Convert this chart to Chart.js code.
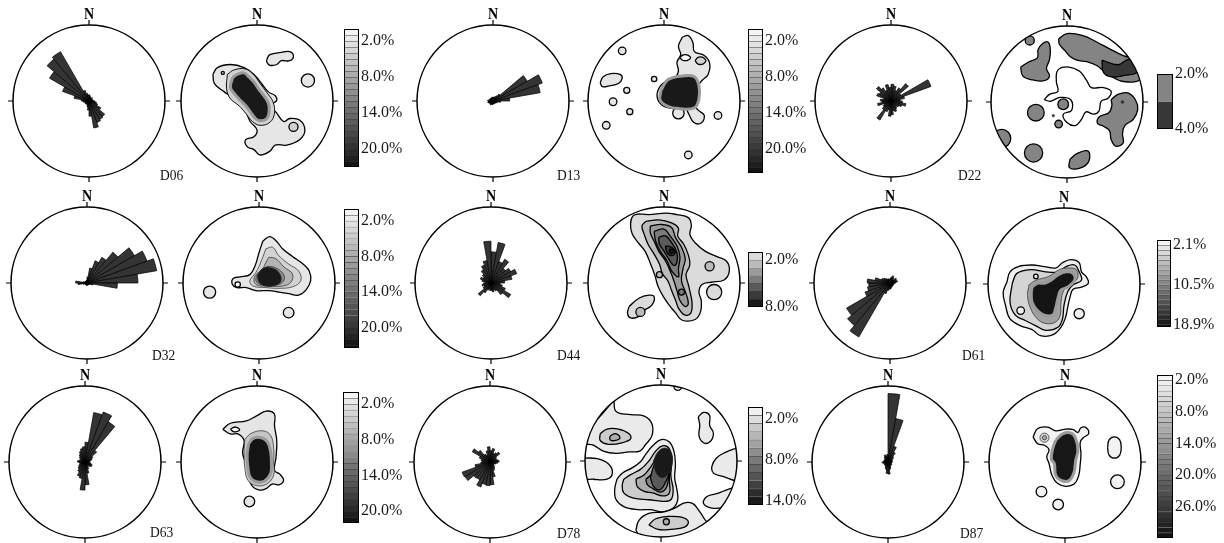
<!DOCTYPE html>
<html>
<head>
<meta charset="utf-8">
<script src="https://cdn.jsdelivr.net/npm/chart.js@4.4.1/dist/chart.umd.min.js"></script>
<style>
  html, body { margin: 0; padding: 0; background: #fff; }
  #fig { position: relative; width: 1224px; height: 543px; overflow: hidden; background: #fff; }
  #fig canvas { position: absolute; }
  .tag { position: absolute; font-family: "Liberation Serif", "Times New Roman", serif; font-size: 13.5px;
         color: #111; line-height: 1; transform: scaleY(1.15); transform-origin: left center; white-space: nowrap; }
</style>
</head>
<body>
<div id="fig"></div>
<script>
// ---------- Rose diagrams: relative length per 10° azimuth bin (0–10°, 10–20°, … clockwise from N) ----------
const azimuthBins = Array.from({ length: 36 }, (_, i) => `${i * 10}°–${i * 10 + 10}°`);

const roseD06 = [0.08,0.06,0.05,0.05,0.06,0.05,0.04,0.05,0.06,0.08, 0.10,0.12,0.18,0.27,0.28,0.30,0.36,0.20,0.12,0.08,
                 0.06,0.05,0.05,0.06,0.05,0.06,0.08,0.10,0.20,0.37, 0.60,0.72,0.75,0.15,0.10,0.08];
const roseD13 = [0.05,0.05,0.06,0.08,0.12,0.52,0.69,0.63,0.22,0.10, 0.06,0.05,0.04,0.04,0.03,0.04,0.03,0.04,0.05,0.04,
                 0.05,0.06,0.05,0.05,0.06,0.07,0.06,0.07,0.05,0.05, 0.04,0.05,0.04,0.04,0.05,0.05];
const roseD22 = [0.22,0.20,0.15,0.20,0.30,0.15,0.56,0.18,0.12,0.15, 0.20,0.15,0.12,0.10,0.12,0.15,0.13,0.18,0.20,0.12,
                 0.15,0.29,0.15,0.12,0.10,0.18,0.12,0.14,0.10,0.20, 0.18,0.25,0.20,0.15,0.22,0.18];
const roseD32 = [0.08,0.20,0.31,0.39,0.53,0.72,0.84,0.93,0.67,0.40, 0.08,0.04,0.03,0.03,0.03,0.03,0.03,0.03,0.03,0.03,
                 0.03,0.03,0.03,0.03,0.03,0.05,0.12,0.15,0.05,0.03, 0.03,0.03,0.03,0.03,0.03,0.04];
const roseD44 = [0.41,0.54,0.30,0.36,0.25,0.30,0.36,0.28,0.18,0.12, 0.15,0.20,0.30,0.20,0.12,0.10,0.12,0.10,0.10,0.08,
                 0.10,0.15,0.22,0.12,0.10,0.12,0.10,0.08,0.12,0.15, 0.12,0.15,0.20,0.25,0.30,0.55];
const roseD61 = [0.06,0.08,0.10,0.08,0.06,0.10,0.08,0.10,0.08,0.06, 0.05,0.05,0.05,0.05,0.05,0.06,0.06,0.08,0.08,0.10,
                 0.15,0.82,0.73,0.66,0.35,0.30,0.28,0.30,0.20,0.12, 0.10,0.08,0.06,0.06,0.05,0.05];
const roseD63 = [0.26,0.66,0.70,0.61,0.20,0.12,0.10,0.08,0.06,0.06, 0.08,0.10,0.10,0.08,0.06,0.10,0.15,0.30,0.37,0.22,
                 0.20,0.15,0.12,0.10,0.08,0.06,0.08,0.10,0.08,0.06, 0.08,0.10,0.12,0.15,0.18,0.20];
const roseD78 = [0.15,0.18,0.12,0.14,0.17,0.10,0.08,0.10,0.12,0.10, 0.08,0.06,0.06,0.08,0.10,0.12,0.20,0.30,0.31,0.30,
                 0.35,0.27,0.28,0.38,0.39,0.20,0.12,0.10,0.12,0.15, 0.27,0.20,0.12,0.10,0.15,0.20];
const roseD87 = [0.90,0.58,0.22,0.15,0.10,0.08,0.06,0.05,0.06,0.05, 0.04,0.05,0.06,0.05,0.06,0.08,0.10,0.16,0.15,0.10,
                 0.08,0.06,0.05,0.06,0.05,0.06,0.08,0.06,0.05,0.06, 0.05,0.06,0.08,0.10,0.08,0.10];

// ---------- Density contours: outlines in net coordinates (unit circle, x = E, y = N) ----------
// spots are small closed contours given as [x, y, radius]
const d06Lvl2 = [[-0.58,0.35],[-0.52,0.44],[-0.35,0.48],[-0.17,0.44],[-0.04,0.35],[0.06,0.23],[0.15,0.12],[0.24,0.07],
  [0.26,0.01],[0.19,-0.06],[0.26,-0.16],[0.35,-0.27],[0.43,-0.23],[0.56,-0.25],[0.63,-0.38],[0.56,-0.51],[0.39,-0.58],
  [0.24,-0.58],[0.17,-0.66],[0.04,-0.71],[-0.04,-0.64],[-0.13,-0.60],[-0.15,-0.51],[-0.04,-0.47],[0,-0.38],[-0.09,-0.27],
  [-0.17,-0.10],[-0.30,0.03],[-0.43,0.12],[-0.56,0.23]];
const d06Cap = [[0.13,0.55],[0.17,0.61],[0.32,0.64],[0.43,0.65],[0.48,0.59],[0.43,0.53],[0.32,0.53],[0.26,0.48],[0.17,0.47],[0.13,0.51]];
const d06Spots2 = [[0.67,0.27,0.087]];
const d06Spots4 = [[0.48,-0.34,0.06],[-0.45,0.37,0.02]];
const d06Lvl4 = [[-0.39,0.35],[-0.30,0.41],[-0.15,0.42],[-0.04,0.34],[0.04,0.23],[0.13,0.11],[0.21,-0.01],[0.23,-0.16],
  [0.17,-0.28],[0.04,-0.32],[-0.06,-0.27],[-0.15,-0.16],[-0.24,-0.06],[-0.35,0.03],[-0.40,0.16]];
const d06Lvl22 = [[-0.32,0.31],[-0.26,0.35],[-0.17,0.37],[-0.11,0.32],[-0.04,0.25],[0.02,0.16],[0.09,0.07],[0.15,-0.03],
  [0.16,-0.14],[0.13,-0.23],[0.04,-0.26],[-0.02,-0.23],[-0.09,-0.14],[-0.15,-0.06],[-0.24,0.03],[-0.30,0.10],[-0.35,0.18]];

const d13Lvl2 = [[0.24,0.84],[0.32,0.86],[0.38,0.77],[0.40,0.65],[0.53,0.60],[0.60,0.50],[0.58,0.35],[0.50,0.27],[0.45,0.19],
  [0.45,0.03],[0.41,-0.06],[0.45,-0.12],[0.53,-0.19],[0.49,-0.29],[0.39,-0.28],[0.32,-0.16],[0.28,-0.10],[0.11,-0.10],
  [-0.02,-0.06],[-0.09,0.05],[-0.06,0.18],[0.04,0.27],[0.11,0.29],[0.16,0.32],[0.19,0.40],[0.17,0.51],[0.22,0.61],[0.19,0.72]];
const d13Cap = [[-0.84,0.24],[-0.80,0.32],[-0.70,0.36],[-0.58,0.35],[-0.55,0.30],[-0.60,0.23],[-0.72,0.20],[-0.81,0.19]];
const d13Spots2 = [[-0.55,0.66,0.05],[-0.49,0.14,0.04],[-0.67,-0.01,0.05],[-0.45,-0.14,0.04],[-0.76,-0.32,0.05],
  [-0.13,0.29,0.035],[0.19,-0.16,0.075],[0.71,-0.19,0.05],[0.32,-0.71,0.05]];
const d13Hole = [[0.21,0.57],[0.24,0.60],[0.28,0.61],[0.32,0.60],[0.35,0.57],[0.32,0.54],[0.28,0.53],[0.24,0.54]];
const d13Oval4 = [[0.41,0.53],[0.44,0.57],[0.48,0.58],[0.52,0.57],[0.55,0.53],[0.52,0.49],[0.48,0.48],[0.44,0.49]];
const d13Lvl23 = [[-0.04,0.14],[0.05,0.28],[0.24,0.33],[0.40,0.32],[0.46,0.20],[0.46,0.03],[0.40,-0.09],[0.19,-0.10],[0.05,-0.07],[-0.05,0.01]];

const d22NE = [[-0.11,0.83],[0,0.90],[0.22,0.87],[0.39,0.79],[0.56,0.70],[0.74,0.61],[0.89,0.57],[1.02,0.51],[0.97,0.30],
  [0.74,0.27],[0.56,0.35],[0.48,0.41],[0.39,0.48],[0.26,0.53],[0.13,0.55],[0.04,0.60],[-0.03,0.68],[-0.10,0.76]];
const d22NW = [[-0.61,0.46],[-0.50,0.53],[-0.39,0.58],[-0.38,0.69],[-0.32,0.77],[-0.25,0.79],[-0.22,0.70],[-0.23,0.56],
  [-0.27,0.44],[-0.23,0.34],[-0.30,0.28],[-0.45,0.29],[-0.58,0.34]];
const d22E = [[0.58,0.03],[0.67,0.10],[0.80,0.12],[0.90,0.03],[0.93,-0.10],[0.87,-0.23],[0.76,-0.31],[0.73,-0.42],[0.74,-0.54],
  [0.64,-0.58],[0.58,-0.49],[0.56,-0.38],[0.48,-0.32],[0.40,-0.28],[0.43,-0.19],[0.55,-0.14],[0.59,-0.05]];
const d22S = [[0.04,-0.75],[0.13,-0.68],[0.26,-0.64],[0.30,-0.71],[0.26,-0.82],[0.13,-0.88],[0.03,-0.86]];
const d22Spots = [[-0.49,0.81,0.06],[-0.41,-0.14,0.11],[-0.05,-0.03,0.07],[-0.11,-0.29,0.05],[-0.86,-0.48,0.12],
  [-0.44,-0.67,0.12],[0.56,-0.88,0.04]];
const d22Peak = [[0.46,0.55],[0.67,0.49],[0.81,0.56],[0.92,0.50],[0.92,0.39],[0.76,0.35],[0.59,0.33],[0.48,0.39]];
const d22Dots = [[0.73,0.0,0.018],[-0.18,-0.18,0.015]];
const d22Open = [[-0.30,0.03],[-0.23,0.10],[-0.12,0.14],[-0.14,0.27],[-0.12,0.42],[0.02,0.46],[0.17,0.40],[0.26,0.28],
  [0.32,0.19],[0.48,0.19],[0.58,0.14],[0.54,0.05],[0.45,0.01],[0.42,-0.12],[0.35,-0.16],[0.25,-0.13],[0.19,-0.23],
  [0.11,-0.31],[0,-0.27],[-0.05,-0.16],[0.06,-0.11],[0.05,0.03],[-0.09,0.06],[-0.22,0.01]];

const d32Lvl2 = [[0.05,0.55],[0.14,0.61],[0.23,0.55],[0.31,0.45],[0.44,0.35],[0.58,0.25],[0.66,0.16],[0.68,0.03],[0.62,-0.09],
  [0.52,-0.16],[0.39,-0.14],[0.26,-0.12],[0.13,-0.10],[-0.04,-0.10],[-0.17,-0.06],[-0.29,-0.06],[-0.35,-0.02],[-0.34,0.06],
  [-0.25,0.08],[-0.12,0.11],[-0.05,0.23],[0.00,0.40]];
const d32Spots2 = [[-0.65,-0.12,0.08],[0.39,-0.39,0.07]];
const d32Hole = [[-0.28,-0.02,0.035]];
const d32Lvl4 = [[0.09,0.45],[0.18,0.47],[0.26,0.36],[0.39,0.25],[0.52,0.16],[0.55,0.03],[0.44,-0.05],[0.26,-0.07],[0.09,-0.06],
  [-0.08,-0.04],[-0.12,0.03],[-0.04,0.14],[0.03,0.29]];
const d32Lvl7 = [[0.13,0.34],[0.22,0.32],[0.33,0.21],[0.44,0.12],[0.42,0.01],[0.31,-0.04],[0.13,-0.04],[-0.04,-0.02],[-0.06,0.08],
  [0.05,0.19],[0.09,0.27]];
const d32Lvl11 = [[0.11,0.22],[0.22,0.20],[0.33,0.10],[0.31,0.01],[0.20,-0.03],[0.05,-0.03],[-0.04,0.03],[0.00,0.14]];
const d32Lvl22 = [[-0.02,0.10],[0.05,0.19],[0.16,0.20],[0.26,0.14],[0.29,0.03],[0.22,-0.03],[0.09,-0.04],[0.00,0.01]];

const d44Lvl1 = [[-0.33,0.91],[-0.20,0.90],[0.02,0.92],[0.17,0.90],[0.32,0.86],[0.36,0.76],[0.34,0.64],[0.41,0.53],[0.54,0.42],
  [0.69,0.35],[0.82,0.29],[0.86,0.16],[0.79,0.04],[0.62,0.01],[0.50,-0.02],[0.46,-0.12],[0.49,-0.23],[0.48,-0.38],[0.41,-0.48],
  [0.24,-0.49],[0.15,-0.39],[0.06,-0.28],[-0.02,-0.16],[-0.08,-0.04],[-0.12,0.10],[-0.18,0.26],[-0.25,0.42],[-0.34,0.53],
  [-0.42,0.65],[-0.44,0.78],[-0.41,0.88]];
const d44SW = [[-0.46,-0.31],[-0.33,-0.20],[-0.20,-0.16],[-0.13,-0.18],[-0.16,-0.29],[-0.29,-0.38],[-0.33,-0.44],[-0.44,-0.46],[-0.48,-0.40]];
const d44Spots1 = [[0.66,-0.12,0.10]];
const d44Lvl2 = [[-0.24,0.81],[-0.07,0.83],[0.10,0.79],[0.19,0.72],[0.18,0.62],[0.26,0.51],[0.32,0.37],[0.34,0.24],[0.29,0.11],
  [0.32,-0.02],[0.35,-0.15],[0.37,-0.28],[0.35,-0.40],[0.27,-0.42],[0.19,-0.33],[0.15,-0.22],[0.10,-0.10],[0.05,0.03],
  [-0.02,0.12],[-0.06,0.25],[-0.13,0.38],[-0.21,0.51],[-0.26,0.64],[-0.29,0.75]];
const d44Spots2 = [[-0.31,-0.38,0.06],[0.60,0.22,0.06],[-0.06,0.11,0.04]];
const d44Lvl3 = [[-0.18,0.75],[-0.03,0.77],[0.10,0.73],[0.15,0.60],[0.23,0.47],[0.28,0.32],[0.25,0.19],[0.23,0.03],[0.29,-0.14],
  [0.32,-0.27],[0.28,-0.31],[0.21,-0.23],[0.17,-0.10],[0.13,0.03],[0.08,0.16],[0.02,0.29],[-0.07,0.42],[-0.13,0.55],[-0.18,0.66]];
const d44Lvl4 = [[-0.13,0.68],[0,0.71],[0.08,0.62],[0.17,0.49],[0.21,0.34],[0.19,0.19],[0.19,0.08],[0.10,0.16],[0.04,0.29],
  [-0.05,0.42],[-0.11,0.55]];
const d44Spots4 = [[0.23,-0.12,0.04]];
const d44Lvl5 = [[-0.07,0.60],[0.02,0.62],[0.10,0.53],[0.17,0.40],[0.17,0.27],[0.13,0.23],[0.06,0.32],[0,0.42],[-0.06,0.51]];
const d44Lvl6 = [[0.02,0.49],[0.10,0.47],[0.15,0.40],[0.10,0.36],[0.04,0.40]];
const d44Spots7 = [[0.10,0.42,0.03]];

const d61Lvl2 = [[-0.75,0.03],[-0.71,0.16],[-0.60,0.23],[-0.42,0.25],[-0.26,0.23],[-0.11,0.21],[-0.02,0.28],[0.09,0.32],
  [0.20,0.28],[0.23,0.16],[0.29,0.10],[0.32,0.01],[0.23,-0.04],[0.12,-0.07],[0.08,-0.17],[0.05,-0.30],[0.02,-0.44],
  [-0.04,-0.57],[-0.15,-0.67],[-0.31,-0.68],[-0.42,-0.60],[-0.57,-0.55],[-0.71,-0.46],[-0.77,-0.28],[-0.80,-0.11]];
const d61Spots2 = [[0.20,-0.39,0.067]];
const d61Lvl5 = [[-0.68,0.01],[-0.62,0.14],[-0.44,0.19],[-0.24,0.16],[-0.08,0.16],[0.03,0.23],[0.14,0.25],[0.20,0.16],
  [0.23,0.05],[0.12,-0.01],[0.05,-0.10],[0.00,-0.28],[-0.02,-0.46],[-0.08,-0.57],[-0.24,-0.61],[-0.37,-0.55],[-0.51,-0.48],
  [-0.64,-0.41],[-0.71,-0.24]];
const d61Loops = [[-0.57,-0.35,0.05],[-0.37,0.10,0.03]];
const d61Lvl10 = [[-0.46,-0.01],[-0.37,0.05],[-0.20,0.10],[-0.06,0.19],[0.05,0.21],[0.16,0.19],[0.18,0.08],[0.09,-0.01],
  [0.00,-0.08],[-0.04,-0.24],[-0.05,-0.41],[-0.11,-0.50],[-0.24,-0.52],[-0.35,-0.46],[-0.44,-0.32],[-0.48,-0.15]];
const d61Lvl19 = [[-0.42,-0.04],[-0.35,0.01],[-0.26,0.01],[-0.17,0.05],[-0.08,0.12],[0.03,0.16],[0.12,0.14],[0.14,0.05],
  [0.05,-0.04],[-0.04,-0.08],[-0.08,-0.19],[-0.11,-0.32],[-0.15,-0.41],[-0.26,-0.41],[-0.35,-0.35],[-0.42,-0.24],[-0.43,-0.12]];

const d63Lvl2 = [[-0.45,0.43],[-0.35,0.51],[-0.14,0.54],[0,0.61],[0.12,0.67],[0.23,0.63],[0.23,0.48],[0.26,0.28],[0.25,0.06],
  [0.23,-0.11],[0.30,-0.16],[0.35,-0.24],[0.29,-0.30],[0.20,-0.29],[0.12,-0.35],[0.03,-0.37],[-0.06,-0.32],[-0.12,-0.19],
  [-0.15,-0.02],[-0.19,0.12],[-0.17,0.28],[-0.25,0.37],[-0.35,0.37]];
const d63Spots2 = [[-0.10,-0.52,0.07]];
const d63Hole = [[-0.35,0.43],[-0.32,0.45],[-0.28,0.46],[-0.24,0.44],[-0.23,0.42],[-0.27,0.40],[-0.31,0.40]];
const d63Lvl5 = [[-0.16,0.30],[-0.07,0.38],[0.08,0.41],[0.18,0.35],[0.22,0.18],[0.22,0.00],[0.22,-0.17],[0.13,-0.29],
  [-0.01,-0.31],[-0.12,-0.24],[-0.16,-0.08],[-0.17,0.12]];
const d63Lvl21 = [[-0.11,0.24],[-0.05,0.31],[0.06,0.32],[0.14,0.26],[0.18,0.13],[0.19,-0.02],[0.18,-0.15],[0.10,-0.25],
  [-0.01,-0.26],[-0.09,-0.20],[-0.12,-0.07],[-0.13,0.09]];

const d78NW = [[-0.62,0.81],[-0.59,0.65],[-0.40,0.61],[-0.22,0.59],[-0.12,0.49],[-0.12,0.33],[-0.20,0.22],[-0.28,0.13],
  [-0.42,0.12],[-0.59,0.10],[-0.76,0.13],[-0.89,0.21],[-1.02,0.24],[-1.02,0.47],[-0.87,0.53],[-0.73,0.67]];
const d78W = [[-1.02,0.04],[-0.84,0.03],[-0.69,-0.04],[-0.64,-0.16],[-0.71,-0.24],[-0.89,-0.24],[-1.02,-0.22]];
const d78Mid1 = [[-0.58,-0.24],[-0.51,-0.16],[-0.38,-0.09],[-0.27,-0.01],[-0.20,0.09],[-0.11,0.20],[0,0.28],[0.11,0.25],
  [0.17,0.13],[0.19,-0.04],[0.18,-0.22],[0.21,-0.38],[0.22,-0.51],[0.16,-0.62],[0.02,-0.67],[-0.13,-0.64],[-0.31,-0.64],
  [-0.49,-0.60],[-0.59,-0.51],[-0.61,-0.38]];
const d78S1 = [[-0.33,-0.91],[-0.29,-0.78],[-0.16,-0.69],[0.04,-0.67],[0.18,-0.62],[0.31,-0.55],[0.42,-0.56],[0.49,-0.64],
  [0.57,-0.76],[0.64,-0.89],[0.22,-1.09],[-0.22,-1.09]];
const d78NE = [[0.49,0.58],[0.56,0.64],[0.64,0.60],[0.64,0.47],[0.69,0.36],[0.64,0.25],[0.56,0.24],[0.50,0.33],[0.51,0.47]];
const d78E = [[1.02,0.18],[0.84,0.11],[0.73,0.04],[0.67,-0.07],[0.69,-0.16],[0.80,-0.20],[1.02,-0.24]];
const d78SE = [[1.02,-0.33],[0.84,-0.39],[0.73,-0.43],[0.60,-0.47],[0.56,-0.56],[0.67,-0.62],[0.84,-0.61],[1.02,-0.56]];
const d78Spots1 = [[0.22,0.98,0.05]];
const d78NW2 = [[-0.80,0.36],[-0.71,0.42],[-0.56,0.42],[-0.42,0.36],[-0.40,0.29],[-0.51,0.24],[-0.69,0.22],[-0.80,0.27]];
const d78Mid2 = [[-0.49,-0.24],[-0.40,-0.18],[-0.27,-0.11],[-0.16,0],[-0.07,0.13],[0.02,0.20],[0.11,0.16],[0.14,0],
  [0.13,-0.20],[0.16,-0.38],[0.13,-0.51],[0.02,-0.53],[-0.16,-0.51],[-0.36,-0.49],[-0.49,-0.42],[-0.51,-0.32]];
const d78S2 = [[-0.16,-0.84],[-0.07,-0.76],[0.09,-0.73],[0.27,-0.74],[0.36,-0.80],[0.31,-0.87],[0.13,-0.90],[-0.04,-0.90]];
const d78NW3 = [[-0.67,0.33],[-0.60,0.36],[-0.54,0.31],[-0.60,0.27],[-0.67,0.28]];
const d78Mid3 = [[-0.33,-0.24],[-0.22,-0.18],[-0.13,-0.07],[-0.04,0.07],[0.04,0.13],[0.11,0.09],[0.12,-0.07],[0.11,-0.24],
  [0.11,-0.42],[0.02,-0.46],[-0.11,-0.42],[-0.22,-0.40],[-0.31,-0.34]];
const d78Spots3 = [[0.07,-0.80,0.04]];
const d78Mid4 = [[-0.20,-0.24],[-0.11,-0.16],[-0.04,-0.02],[0.05,0.08],[0.12,0.02],[0.10,-0.16],[0.08,-0.33],[0,-0.41],[-0.11,-0.36],[-0.18,-0.31]];
const d78Mid5 = [[-0.14,-0.22],[-0.10,-0.08],[-0.03,0.08],[0.08,0.14],[0.14,0.06],[0.12,-0.12],[0.05,-0.30],[-0.02,-0.38],[-0.10,-0.33]];
const d78Peak = [[-0.10,0.00],[-0.04,0.12],[0.05,0.17],[0.13,0.12],[0.15,-0.02],[0.10,-0.16],[0.02,-0.22],[-0.06,-0.16]];

const d87Lvl2 = [[-0.42,0.33],[-0.36,0.44],[-0.23,0.46],[-0.12,0.41],[-0.01,0.43],[0.10,0.43],[0.17,0.39],[0.21,0.45],
  [0.28,0.45],[0.31,0.37],[0.24,0.32],[0.20,0.26],[0.21,0.11],[0.20,-0.03],[0.18,-0.18],[0.12,-0.29],[0.01,-0.32],
  [-0.10,-0.28],[-0.17,-0.18],[-0.21,-0.02],[-0.24,0.07],[-0.21,0.16],[-0.27,0.22],[-0.36,0.24]];
const d87Oval = [[0.56,0.19],[0.58,0.29],[0.65,0.33],[0.72,0.29],[0.74,0.19],[0.72,0.09],[0.65,0.05],[0.58,0.09]];
const d87Spots2 = [[0.69,-0.26,0.09],[-0.31,-0.39,0.07],[-0.09,-0.56,0.07]];
const d87Spots6 = [[-0.27,0.32,0.06]];
const d87Spots12 = [[-0.27,0.32,0.028]];
const d87Lvl31 = [[-0.12,0.29],[-0.03,0.37],[0.08,0.38],[0.14,0.31],[0.17,0.15],[0.14,0.02],[0.12,-0.13],[0.06,-0.24],
  [-0.03,-0.25],[-0.12,-0.18],[-0.14,-0.02],[-0.18,0.04],[-0.16,0.18]];

// ---------- Colour bars: band edges (%) and labelled values ----------
const d06BarEdges = [0,1,2,3,4,5,6,7,8,9,10,11,12,13,14,15,16,17,18,19,20,21,22,23];
const d06BarTicks = [2, 8, 14, 20];
const d13BarEdges = [0,1,2,3,4,5,6,7,8,9,10,11,12,13,14,15,16,17,18,19,20,21,22,23,24];
const d13BarTicks = [2, 8, 14, 20];
const d22BarEdges = [2, 3, 4];
const d22BarTicks = [2, 4];
const d32BarEdges = [0,1,2,3,4,5,6,7,8,9,10,11,12,13,14,15,16,17,18,19,20,21,22,23,23.5];
const d32BarTicks = [2, 8, 14, 20];
const d44BarEdges = [1,2,3,4,5,6,7,8];
const d44BarTicks = [2, 8];
const d61BarEdges = [1.05,2.1,3.15,4.2,5.25,6.3,7.35,8.4,9.45,10.5,11.55,12.6,13.65,14.7,15.75,16.8,17.85,18.9,19.4];
const d61BarTicks = [2.1, 10.5, 18.9];
const d63BarEdges = [0,1,2,3,4,5,6,7,8,9,10,11,12,13,14,15,16,17,18,19,20,21,22];
const d63BarTicks = [2, 8, 14, 20];
const d78BarEdges = [0.2,1.4,2.6,3.8,5.0,6.2,7.4,8.6,9.8,11.0,12.2,13.4,14.6];
const d78BarTicks = [2, 8, 14];
const d87BarEdges = [1,2,3,4,5,6,7,8,9,10,11,12,13,14,15,16,17,18,19,20,21,22,23,24,25,26,27,28,29,30,31,32];
const d87BarTicks = [2, 8, 14, 20, 26];

// ---------- Layout of the nine sample panels ----------
const R = 76;              // circle radius in px
const SERIF = '"Liberation Serif", "Times New Roman", serif';

const panels = [
  { name: 'D06', rose: roseD06, roseAt: [89, 101], netAt: [257, 101], tagAt: [160, 175],
    bar: { edges: d06BarEdges, ticks: d06BarTicks, light: 250, dark: 15, rect: [344, 29, 15, 138] },
    layers: [
      { pts: d06Lvl2, level: 2, line: 'bold' }, { pts: d06Cap, level: 2, line: 'bold' },
      { spots: d06Spots2, level: 2, line: 'bold' }, { spots: d06Spots4, level: 4, line: 'bold' },
      { pts: d06Lvl4, level: 4, line: 'mid' }, { pts: d06Lvl22, level: 22, line: 'halo' } ] },
  { name: 'D13', rose: roseD13, roseAt: [493, 101], netAt: [664, 101], tagAt: [557, 175],
    bar: { edges: d13BarEdges, ticks: d13BarTicks, light: 250, dark: 15, rect: [748, 29, 15, 144] },
    layers: [
      { pts: d13Lvl2, level: 2, line: 'bold' }, { pts: d13Cap, level: 2, line: 'bold' },
      { spots: d13Spots2, level: 2, line: 'bold' }, { pts: d13Hole, level: null, line: 'bold' },
      { pts: d13Oval4, level: 4, line: 'bold' }, { pts: d13Lvl23, level: 23, line: 'halo' } ] },
  { name: 'D22', rose: roseD22, roseAt: [891, 101], netAt: [1067, 102], tagAt: [958, 175],
    bar: { edges: d22BarEdges, ticks: d22BarTicks, light: 170, dark: 17, rect: [1157, 74, 16, 55] },
    layers: [
      { pts: d22NE, level: 2.5, line: 'bold' }, { pts: d22NW, level: 2.5, line: 'bold' },
      { pts: d22E, level: 2.5, line: 'bold' }, { pts: d22S, level: 2.5, line: 'bold' },
      { spots: d22Spots, level: 2.5, line: 'bold' }, { pts: d22Peak, level: 3.5, line: 'bold' },
      { spots: d22Dots, level: 3.5, line: 'thin' }, { pts: d22Open, level: null, line: 'bold', open: true } ] },
  { name: 'D32', rose: roseD32, roseAt: [87, 283], netAt: [259, 283], tagAt: [152, 355],
    bar: { edges: d32BarEdges, ticks: d32BarTicks, light: 250, dark: 15, rect: [344, 209, 15, 139] },
    layers: [
      { pts: d32Lvl2, level: 2, line: 'bold' }, { spots: d32Spots2, level: 2, line: 'bold' },
      { spots: d32Hole, level: null, line: 'bold' }, { pts: d32Lvl4, level: 4, line: 'thin' },
      { pts: d32Lvl7, level: 7, line: 'thin' }, { pts: d32Lvl11, level: 11, line: 'thin' },
      { pts: d32Lvl22, level: 22.5, line: 'thin' } ] },
  { name: 'D44', rose: roseD44, roseAt: [491, 283], netAt: [664, 283], tagAt: [557, 355],
    bar: { edges: d44BarEdges, ticks: d44BarTicks, light: 235, dark: 10, rect: [748, 252, 15, 55] },
    layers: [
      { pts: d44Lvl1, level: 1.5, line: 'bold' }, { pts: d44SW, level: 1.5, line: 'bold' },
      { spots: d44Spots1, level: 1.5, line: 'bold' }, { pts: d44Lvl2, level: 2.5, line: 'bold' },
      { spots: d44Spots2, level: 2.5, line: 'bold' }, { pts: d44Lvl3, level: 3.5, line: 'bold' },
      { pts: d44Lvl4, level: 4.5, line: 'bold' }, { spots: d44Spots4, level: 4.5, line: 'bold' },
      { pts: d44Lvl5, level: 5.5, line: 'bold' }, { pts: d44Lvl6, level: 6.5, line: 'bold' },
      { spots: d44Spots7, level: 7.5, line: 'bold' } ] },
  { name: 'D61', rose: roseD61, roseAt: [890, 283], netAt: [1064, 284], tagAt: [962, 355],
    bar: { edges: d61BarEdges, ticks: d61BarTicks, light: 250, dark: 15, rect: [1157, 240, 14, 87] },
    layers: [
      { pts: d61Lvl2, level: 2, line: 'bold' }, { spots: d61Spots2, level: 2, line: 'bold' },
      { pts: d61Lvl5, level: 4, line: 'bold' }, { spots: d61Loops, level: 2, line: 'bold' },
      { pts: d61Lvl10, level: 8, line: 'thin' }, { pts: d61Lvl19, level: 19, line: 'halo' } ] },
  { name: 'D63', rose: roseD63, roseAt: [85, 462], netAt: [257, 462], tagAt: [150, 532],
    bar: { edges: d63BarEdges, ticks: d63BarTicks, light: 250, dark: 15, rect: [343, 392, 16, 131] },
    layers: [
      { pts: d63Lvl2, level: 2, line: 'bold' }, { spots: d63Spots2, level: 2, line: 'bold' },
      { pts: d63Hole, level: null, line: 'bold' }, { pts: d63Lvl5, level: 5, line: 'thin' },
      { pts: d63Lvl21, level: 21.5, line: 'halo' } ] },
  { name: 'D78', rose: roseD78, roseAt: [490, 462], netAt: [661, 461], tagAt: [557, 533],
    bar: { edges: d78BarEdges, ticks: d78BarTicks, light: 250, dark: 15, rect: [748, 407, 15, 98] },
    layers: [
      { pts: d78NW, level: 1.2, line: 'bold' }, { pts: d78W, level: 1.2, line: 'bold' },
      { pts: d78Mid1, level: 1.2, line: 'bold' }, { pts: d78S1, level: 1.2, line: 'bold' },
      { pts: d78NE, level: 1.2, line: 'bold' }, { pts: d78E, level: 1.2, line: 'bold' },
      { pts: d78SE, level: 1.2, line: 'bold' }, { spots: d78Spots1, level: 1.2, line: 'bold' },
      { pts: d78NW2, level: 3, line: 'bold' }, { pts: d78Mid2, level: 3, line: 'bold' },
      { pts: d78S2, level: 3, line: 'bold' }, { pts: d78NW3, level: 5, line: 'bold' },
      { pts: d78Mid3, level: 5, line: 'bold' }, { spots: d78Spots3, level: 5, line: 'bold' },
      { pts: d78Mid4, level: 7.5, line: 'bold' }, { pts: d78Mid5, level: 10, line: 'bold' },
      { pts: d78Peak, level: 14, line: 'thin' } ] },
  { name: 'D87', rose: roseD87, roseAt: [888, 462], netAt: [1065, 462], tagAt: [960, 533],
    bar: { edges: d87BarEdges, ticks: d87BarTicks, light: 250, dark: 15, rect: [1157, 375, 16, 163] },
    layers: [
      { pts: d87Lvl2, level: 2, line: 'bold' }, { pts: d87Oval, level: 2, line: 'bold' },
      { spots: d87Spots2, level: 2, line: 'bold' }, { spots: d87Spots6, level: 6, line: 'thin' },
      { spots: d87Spots12, level: 12, line: 'thin' }, { pts: d87Lvl31, level: 31, line: 'halo' } ] }
];

// ---------- Styling helpers ----------
const LINE = {
  bold: { color: '#000', width: 1.3 },
  mid:  { color: '#111', width: 1 },
  thin: { color: '#262626', width: 0.7 },
  halo: { color: '#9a9a9a', width: 3 }
};

function grayFor(bar, v) {
  if (v == null) return '#ffffff';
  const lo = bar.edges[0], hi = bar.edges[bar.edges.length - 1];
  const t = Math.min(1, Math.max(0, (v - lo) / (hi - lo)));
  const g = Math.round(bar.light - t * (bar.light - bar.dark));
  return `rgb(${g},${g},${g})`;
}

const fig = document.getElementById('fig');
function makeCanvas(left, top, w, h) {
  const c = document.createElement('canvas');
  c.width = w; c.height = h;
  c.style.left = left + 'px'; c.style.top = top + 'px';
  c.style.width = w + 'px'; c.style.height = h + 'px';
  fig.appendChild(c);
  return c;
}

// circle outline, N/E/S/W ticks and the N label
function drawFrame(ctx, cx, cy, r) {
  ctx.save();
  ctx.strokeStyle = '#000';
  ctx.lineWidth = 1.5;
  ctx.beginPath(); ctx.arc(cx, cy, r, 0, Math.PI * 2); ctx.stroke();
  ctx.lineWidth = 1.2;
  ctx.beginPath();
  ctx.moveTo(cx, cy - r); ctx.lineTo(cx, cy - r - 5);
  ctx.moveTo(cx, cy + r); ctx.lineTo(cx, cy + r + 5);
  ctx.moveTo(cx - r, cy); ctx.lineTo(cx - r - 5, cy);
  ctx.moveTo(cx + r, cy); ctx.lineTo(cx + r + 5, cy);
  ctx.stroke();
  ctx.fillStyle = '#000';
  ctx.font = 'bold 14px ' + SERIF;
  ctx.textAlign = 'center';
  ctx.textBaseline = 'alphabetic';
  ctx.translate(cx, cy - r - 6);
  ctx.scale(1, 1.25);
  ctx.fillText('N', 0, 0);
  ctx.restore();
}

const roseFrame = {
  id: 'roseFrame',
  afterDraw(chart) {
    const s = chart.scales.r;
    drawFrame(chart.ctx, s.xCenter, s.yCenter, s.drawingArea);
  }
};

function netGeom(chart) {
  const x = chart.scales.x, y = chart.scales.y;
  const cx = x.getPixelForValue(0), cy = y.getPixelForValue(0);
  return { cx, cy, r: x.getPixelForValue(1) - cx };
}
const netFrame = {
  id: 'netFrame',
  beforeDatasetsDraw(chart) {
    const { cx, cy, r } = netGeom(chart);
    const ctx = chart.ctx;
    ctx.save();
    ctx.beginPath(); ctx.arc(cx, cy, r, 0, Math.PI * 2); ctx.clip();
  },
  afterDatasetsDraw(chart) { chart.ctx.restore(); },
  afterDraw(chart) {
    const { cx, cy, r } = netGeom(chart);
    drawFrame(chart.ctx, cx, cy, r);
  }
};

const barFrame = {
  id: 'barFrame',
  afterDatasetsDraw(chart) {
    const a = chart.chartArea, ctx = chart.ctx;
    ctx.save();
    ctx.strokeStyle = '#000'; ctx.lineWidth = 1;
    ctx.strokeRect(Math.round(a.left) + 0.5, Math.round(a.top) + 0.5, Math.round(a.right - a.left) - 1, Math.round(a.bottom - a.top) - 1);
    ctx.restore();
  }
};

const PAD = 24, SIDE = 2 * (R + PAD);

function drawRose(p) {
  const [cx, cy] = p.roseAt;
  const cv = makeCanvas(cx - R - PAD, cy - R - PAD, SIDE, SIDE);
  new Chart(cv, {
    type: 'polarArea',
    data: { labels: azimuthBins, datasets: [{ data: p.rose, backgroundColor: '#343434', borderColor: '#000', borderWidth: 0.7 }] },
    options: {
      responsive: false, animation: false, events: [],
      layout: { padding: PAD },
      plugins: { legend: { display: false }, tooltip: { enabled: false } },
      scales: { r: { min: 0, max: 1, startAngle: 0,
        ticks: { display: false, stepSize: 1 }, grid: { display: false },
        angleLines: { display: false }, pointLabels: { display: false } } }
    },
    plugins: [roseFrame]
  });
}

function drawNet(p) {
  const [cx, cy] = p.netAt;
  const cv = makeCanvas(cx - R - PAD, cy - R - PAD, SIDE, SIDE);
  const datasets = p.layers.map((L, i) => {
    const st = LINE[L.line];
    const fill = grayFor(p.bar, L.level);
    if (L.spots) {
      return {
        type: 'scatter', order: -i,
        data: L.spots.map(([x, y, r]) => ({ x, y, r })),
        pointRadius: ctx => {
          if (!ctx.raw) return 0;
          const s = ctx.chart.scales.x;
          return s.getPixelForValue(ctx.raw.r) - s.getPixelForValue(0);
        },
        pointBackgroundColor: fill, pointBorderColor: st.color, pointBorderWidth: st.width,
        pointHoverRadius: 0
      };
    }
    const pts = L.pts.map(([x, y]) => ({ x, y }));
    pts.push({ x: L.pts[0][0], y: L.pts[0][1] });
    return {
      type: 'line', order: -i, data: pts,
      fill: L.open ? false : 'shape',
      backgroundColor: fill, borderColor: st.color, borderWidth: st.width,
      pointRadius: 0, pointHoverRadius: 0, tension: 0.4, capBezierPoints: false
    };
  });
  new Chart(cv, {
    type: 'scatter',
    data: { datasets },
    options: {
      responsive: false, animation: false, events: [],
      layout: { padding: PAD },
      plugins: { legend: { display: false }, tooltip: { enabled: false } },
      elements: { line: { capBezierPoints: false } },
      scales: {
        x: { type: 'linear', min: -1, max: 1, display: false },
        y: { type: 'linear', min: -1, max: 1, display: false }
      }
    },
    plugins: [netFrame]
  });
}

function drawBar(p) {
  const b = p.bar;
  const [bx, by, bw, bh] = b.rect;
  const axisW = 62, vpad = 12;
  const cv = makeCanvas(bx, by - vpad, bw + axisW, bh + 2 * vpad);
  const datasets = [];
  for (let i = 0; i < b.edges.length - 1; i++) {
    datasets.push({
      data: [[b.edges[i], b.edges[i + 1]]],
      backgroundColor: grayFor(b, (b.edges[i] + b.edges[i + 1]) / 2),
      borderColor: '#3a3a3a',
      borderWidth: { top: 0.8, bottom: 0, left: 0, right: 0 },
      borderSkipped: false, grouped: false,
      barPercentage: 1, categoryPercentage: 1
    });
  }
  new Chart(cv, {
    type: 'bar',
    data: { labels: [''], datasets },
    options: {
      responsive: false, animation: false, events: [],
      layout: { padding: { top: vpad, bottom: vpad, left: 0, right: 0 } },
      plugins: { legend: { display: false }, tooltip: { enabled: false } },
      scales: {
        x: { display: false },
        y: {
          type: 'linear', position: 'right', reverse: true,
          min: b.edges[0], max: b.edges[b.edges.length - 1],
          grid: { display: false, drawTicks: false }, border: { display: false },
          afterBuildTicks: s => { s.ticks = b.ticks.map(v => ({ value: v })); },
          afterFit: s => { s.width = axisW; },
          ticks: { autoSkip: false, padding: 2, color: '#1a1a1a',
                   font: { family: SERIF, size: 16 },
                   callback: v => Number(v).toFixed(1) + '%' }
        }
      }
    },
    plugins: [barFrame]
  });
}

function drawTag(p) {
  const d = document.createElement('div');
  d.className = 'tag';
  d.textContent = p.name;
  d.style.left = p.tagAt[0] + 'px';
  d.style.top = (p.tagAt[1] - 7) + 'px';
  fig.appendChild(d);
}

panels.forEach(p => { drawRose(p); drawNet(p); drawBar(p); drawTag(p); });
</script>
</body>
</html>
